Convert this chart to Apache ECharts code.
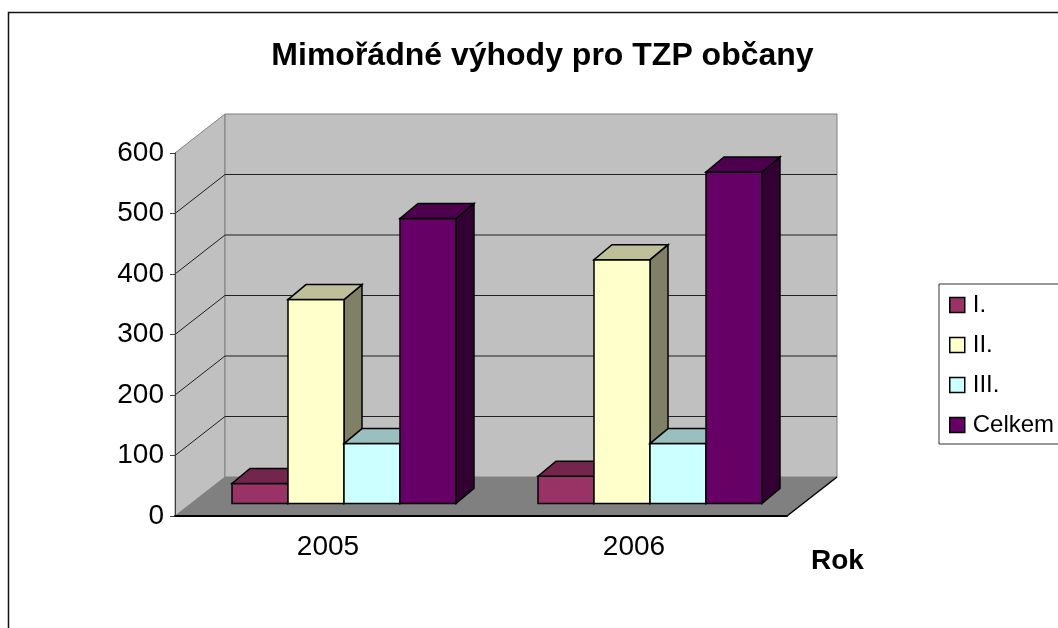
<!DOCTYPE html>
<html><head><meta charset="utf-8">
<script src="https://cdn.jsdelivr.net/npm/echarts@6/dist/echarts.min.js"></script>
<style>html,body{margin:0;padding:0;background:#fff}#c{width:1058px;height:628px}</style>
</head><body><div id="c"></div>
<script>
// ---- data ----
const categories = ['2005', '2006'];
const seriesNames = ['I.', 'II.', 'III.', 'Celkem'];
const valuesI = [33, 45];
const valuesII = [337, 403];
const valuesIII = [99, 99];
const valuesCelkem = [471, 548];
const yTicks = [0, 100, 200, 300, 400, 500, 600];
const titleText = 'Mimořádné výhody pro TZP občany';
const xAxisName = 'Rok';

// ---- style ----
const FONT = '"Liberation Sans", Arial, sans-serif';
const seriesValues = [valuesI, valuesII, valuesIII, valuesCelkem];
const palette = [
  { front: '#993366', top: '#73264d', side: '#4d1a33' },
  { front: '#ffffcc', top: '#bfbf99', side: '#808066' },
  { front: '#ccffff', top: '#99bfbf', side: '#668080' },
  { front: '#660066', top: '#4d004d', side: '#330033' }
];
const WALL = [50, -39];
const BAR_OFF = [16, -12.5];
const BAR_DEPTH = [18, -15];
const BAR_W = 0.183;

function poly(points, fill, stroke, lw) {
  return {
    type: 'polygon',
    shape: { points: points },
    style: { fill: fill, stroke: stroke || null, lineWidth: lw || 0, lineJoin: 'miter' }
  };
}

function renderWalls(params, api) {
  const cs = params.coordSys;
  const x0 = cs.x, x1 = cs.x + cs.width;
  const y0 = api.coord([0, yTicks[0]])[1];
  const yTop = api.coord([0, yTicks[yTicks.length - 1]])[1];
  const dx = WALL[0], dy = WALL[1];
  const children = [];
  children.push(poly([[x0, y0], [x0 + dx, y0 + dy], [x0 + dx, yTop + dy], [x0, yTop]], '#c0c0c0', '#808080', 1));
  children.push(poly([[x0 + dx, y0 + dy], [x1 + dx, y0 + dy], [x1 + dx, yTop + dy], [x0 + dx, yTop + dy]], '#c0c0c0', '#808080', 1));
  yTicks.slice(1, -1).forEach(function (v) {
    const y = api.coord([0, v])[1];
    children.push({
      type: 'polyline',
      shape: { points: [[x0, y], [x0 + dx, y + dy], [x1 + dx, y + dy]] },
      style: { stroke: '#202020', lineWidth: 1, fill: null }
    });
  });
  children.push(poly([[x0, y0], [x1, y0], [x1 + dx, y0 + dy], [x0 + dx, y0 + dy]], '#808080', null, 0));
  children.push({
    type: 'line',
    shape: { x1: x1, y1: y0, x2: x1 + dx, y2: y0 + dy },
    style: { stroke: '#000', lineWidth: 1.5 }
  });
  return { type: 'group', children: children };
}

function makeBarRenderer(i) {
  return function (params, api) {
    const c = api.value(0), v = api.value(1);
    const base = api.coord([c, 0]);
    const topP = api.coord([c, v]);
    const band = api.size([1, 0])[0];
    const w = band * BAR_W;
    const left = base[0] - 2 * w + i * w + BAR_OFF[0];
    const right = left + w;
    const bottom = base[1] + BAR_OFF[1];
    const top = topP[1] + BAR_OFF[1];
    const dx = BAR_DEPTH[0], dy = BAR_DEPTH[1];
    const p = palette[i];
    return {
      type: 'group',
      children: [
        poly([[right, bottom], [right + dx, bottom + dy], [right + dx, top + dy], [right, top]], p.side, '#000', 1.5),
        poly([[left, bottom], [right, bottom], [right, top], [left, top]], p.front, '#000', 1.5),
        poly([[left, top], [right, top], [right + dx, top + dy], [left + dx, top + dy]], p.top, '#000', 1.5)
      ]
    };
  };
}

const series = [{
  type: 'custom',
  name: '_walls',
  z: 1,
  silent: true,
  clip: false,
  renderItem: renderWalls,
  data: [[0, 0]]
}];
seriesNames.forEach(function (name, i) {
  series.push({
    type: 'custom',
    name: name,
    z: 3,
    clip: false,
    itemStyle: { color: palette[i].front, borderColor: '#000', borderWidth: 1.5 },
    renderItem: makeBarRenderer(i),
    encode: { x: 0, y: 1 },
    data: categories.map(function (c, j) { return [j, seriesValues[i][j]]; })
  });
});

const chart = echarts.init(document.getElementById('c'), null, { renderer: 'canvas' });
chart.setOption({
  animation: false,
  backgroundColor: '#fff',
  grid: { left: 175, top: 153, width: 612, height: 363 },
  xAxis: {
    type: 'category',
    data: categories,
    z: 10,
    axisLine: { lineStyle: { color: '#000', width: 2 } },
    axisTick: { length: 6, lineStyle: { color: '#000', width: 1 } },
    axisLabel: { fontSize: 28, color: '#000', margin: 17, fontFamily: FONT },
    splitLine: { show: false }
  },
  yAxis: {
    type: 'value',
    min: 0, max: 600, interval: 100,
    z: 10,
    axisLine: { show: true, lineStyle: { color: '#404040', width: 1 } },
    axisTick: { show: true, length: 5, lineStyle: { color: '#404040' } },
    axisLabel: { fontSize: 28, color: '#000', margin: 11, fontFamily: FONT },
    splitLine: { show: false }
  },
  legend: {
    orient: 'vertical',
    left: 939, top: 284,
    padding: [9, 40, 7, 10],
    itemGap: 16,
    itemWidth: 15, itemHeight: 15,
    borderColor: '#333', borderWidth: 1,
    selectedMode: false,
    textStyle: { fontSize: 24, lineHeight: 24, color: '#000', fontFamily: FONT, padding: [0, 0, 0, 3] },
    data: seriesNames.map(function (n, i) {
      return { name: n, icon: 'rect', itemStyle: { color: palette[i].front, borderColor: '#000', borderWidth: 1.5 } };
    })
  },
  graphic: [
    { type: 'rect', silent: true, z: -10, shape: { x: 8.5, y: 12.5, width: 1200, height: 800 },
      style: { fill: null, stroke: '#111', lineWidth: 1.5 } },
    { type: 'text', silent: true, x: 542.5, y: 40,
      style: { text: titleText, font: 'bold 32px ' + FONT, fill: '#000', align: 'center', verticalAlign: 'top', textAlign: 'center', textVerticalAlign: 'top' } },
    { type: 'text', silent: true, x: 811, y: 547,
      style: { text: xAxisName, font: 'bold 28px ' + FONT, fill: '#000', align: 'left', verticalAlign: 'top', textAlign: 'left', textVerticalAlign: 'top' } }
  ],
  series: series
});
</script>
</body></html>
